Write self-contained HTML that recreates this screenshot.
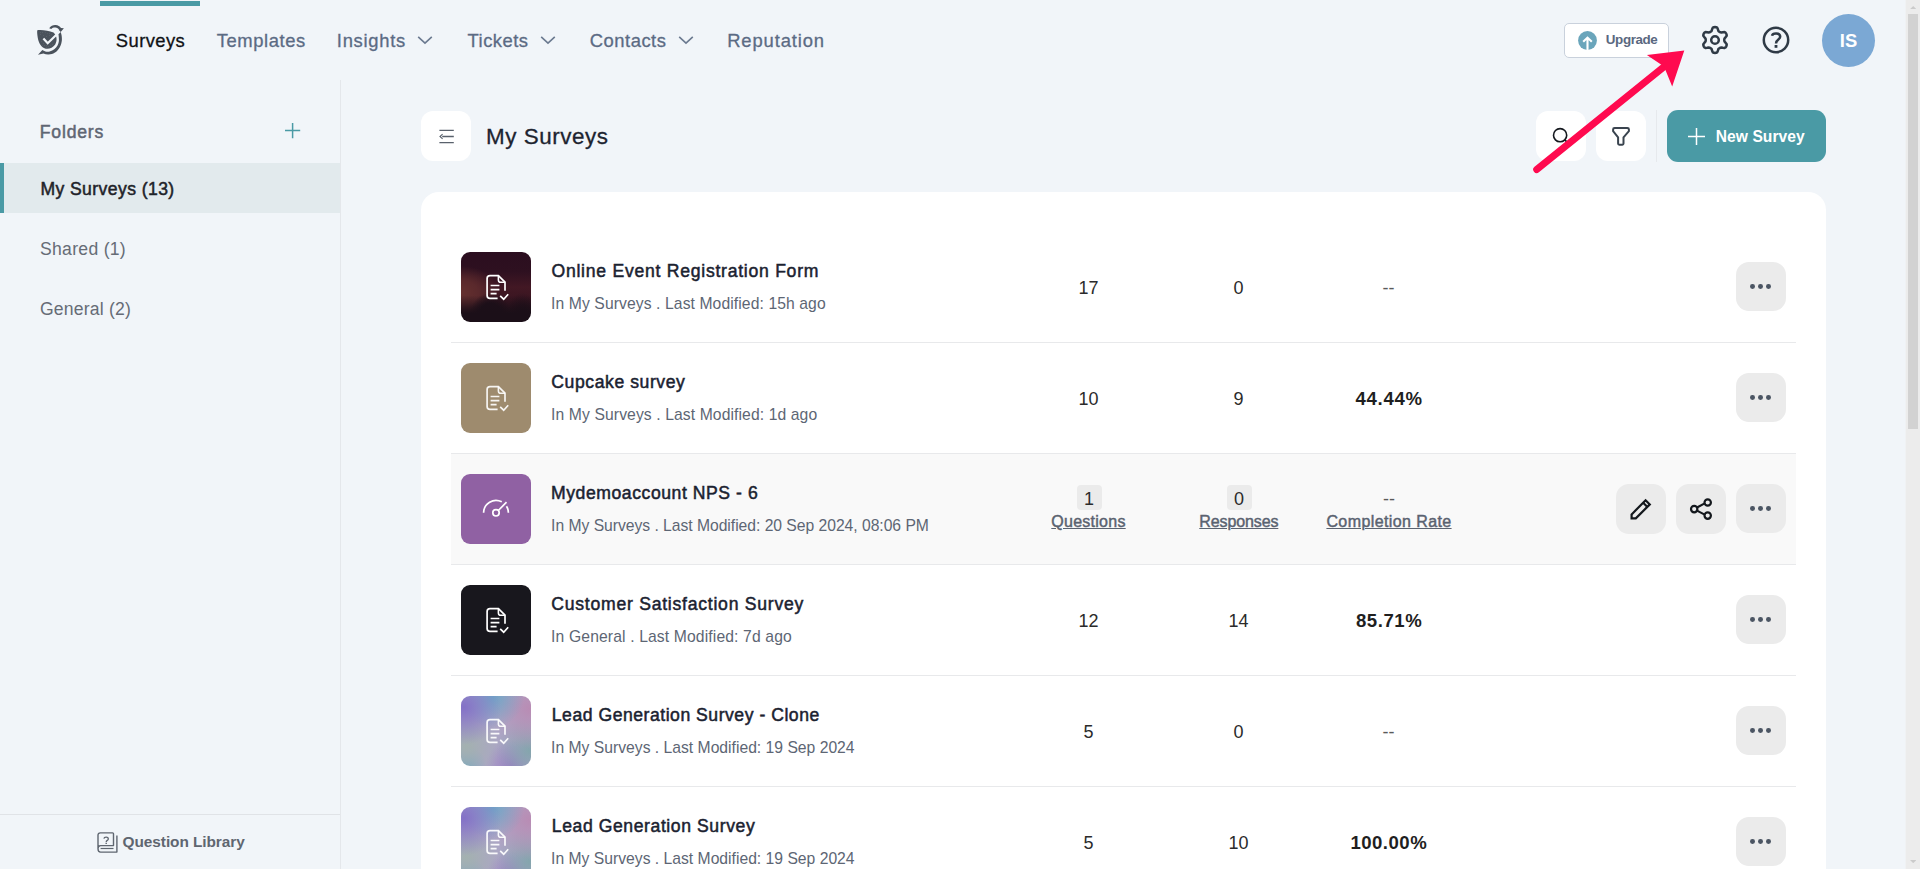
<!DOCTYPE html>
<html lang="en"><head>
<meta charset="utf-8">
<title>My Surveys</title>
<style>
*{box-sizing:border-box;margin:0;padding:0}
html,body{width:1920px;height:869px;overflow:hidden;background:#f1f5f9;font-family:"Liberation Sans",sans-serif;color:#1f2430}
body{position:relative}
.abs{position:absolute}
/* ---------- top nav ---------- */
.tabbar{position:absolute;left:100px;top:1px;width:100px;height:5px;background:#4a9aa5}
.logo{position:absolute;left:30px;top:18px;width:42px;height:44px}
.nav a{position:absolute;top:29.5px;height:22px;line-height:22px;font-size:18.4px;color:#5b6b84;text-decoration:none;white-space:nowrap}
.nav a{-webkit-text-stroke:0.3px currentColor}
.nav a.on{color:#0f1115}
.nav svg{position:absolute;top:35px;width:16px;height:10px}
.upg{position:absolute;left:1564px;top:23px;width:105px;height:35px;border:1px solid #c9d1dc;border-radius:5px;background:#fff}
.upg .c{position:absolute;left:13px;top:7px;width:19px;height:19px}
.upg span{position:absolute;left:41px;top:7px;font-size:13.4px;font-weight:700;color:#5a6880;line-height:18px}
.ico{position:absolute}
.avatar{position:absolute;left:1822px;top:14px;width:53px;height:53px;border-radius:50%;background:#7ba8d4;color:#fff;font-weight:700;font-size:18.4px;text-align:center;line-height:53px}
/* ---------- sidebar ---------- */
.side{position:absolute;left:0;top:80px;width:341px;height:789px;border-right:1px solid #e4e7eb}
.side h3{position:absolute;left:40px;top:41px;font-size:17.6px;line-height:22px;font-weight:400;-webkit-text-stroke:0.5px currentColor;color:#5f6673}
.side .it{position:absolute;left:0;width:340px;height:50px;padding-left:40px;line-height:52px;font-size:17.6px;color:#666c76;white-space:nowrap}
.side .it.on{background:#e2eaed;border-left:4px solid #4a9aa5;padding-left:36px;color:#1f2329;font-weight:400;-webkit-text-stroke:0.5px currentColor}
.side .ql{position:absolute;left:0;top:734px;width:340px;height:55px;border-top:1px solid #e0e3e7}
.side .ql span{position:absolute;left:123px;top:17px;font-size:15.4px;font-weight:700;color:#5f6670;line-height:20px;white-space:nowrap}
/* ---------- toolbar ---------- */
.sq{position:absolute;top:111px;width:50px;height:50px;border-radius:12px;background:#fff}
.title{position:absolute;left:487px;top:122px;font-size:22.4px;-webkit-text-stroke:0.3px currentColor;line-height:30px;color:#1d2430;white-space:nowrap}
.new{position:absolute;left:1667px;top:110px;width:159px;height:52px;border-radius:11px;background:#4a9aa5}
.new span{position:absolute;left:49px;top:16px;font-size:15.6px;font-weight:700;color:#fff;line-height:22px;white-space:nowrap}
.vdiv{position:absolute;left:1656px;top:110px;width:1px;height:52px;background:#e6e9ed}
/* ---------- card ---------- */
.card{position:absolute;left:421px;top:192px;width:1405px;height:700px;background:#fff;border-radius:18px 18px 0 0}
.row{position:absolute;left:30px;width:1345px;height:111px;border-bottom:1px solid #e8e9eb}
.row.hv{background:#f9f9f9}
.th{position:absolute;left:10px;top:20px;width:70px;height:70px;border-radius:9px;overflow:hidden}
.th svg{position:absolute;left:0;top:0}
.t1{position:absolute;left:101px;top:26.5px;font-size:17.6px;line-height:24px;font-weight:400;-webkit-text-stroke:0.5px currentColor;color:#1b2230;white-space:nowrap}
.t2{position:absolute;left:101px;top:61px;font-size:15.7px;line-height:22px;color:#5d6674;white-space:nowrap}
.col{position:absolute;top:0;width:150px;height:110px;text-align:center;font-size:18px;color:#2b2b2b;line-height:112px}
.col b{font-weight:700;color:#1f1f1f;font-size:18.6px}
.col.g{color:#5a5a5a}
.c1{left:562.5px}.c2{left:712.5px}.c3{left:862.5px}
.hv .col{line-height:normal}
.bdg{position:absolute;left:63px;top:31px;width:25px;height:25px;border-radius:4px;background:#ebebeb;line-height:29px;font-size:18px;color:#2b2b2b}
.lbl{position:absolute;left:0;right:0;top:57px;font-size:16px;line-height:22px;font-weight:400;-webkit-text-stroke:0.45px currentColor;color:#5a6270;text-decoration:underline;white-space:nowrap}
.btn{position:absolute;top:30px;width:50px;height:50px;border-radius:13px;background:#ebebeb}
.btn.more{left:1285px;height:49px}
.btn.more i{position:absolute;top:22.4px;width:4.8px;height:4.8px;border-radius:50%;background:#4b5563}
.sb{position:absolute;left:1905px;top:0;width:15px;height:869px;background:#ececec;border-left:1px solid #f0f2f4}
.sb .th2{position:absolute;left:2px;top:14px;width:10px;height:415px;background:#d2d2d2}
</style>
</head>
<body>

<!-- ===== top navigation ===== -->
<div class="tabbar"></div>
<svg class="logo" viewBox="0 0 42 44">
  <path fill="#4a525c" d="M8.2 12.1C13 11.8 19 12.6 23.5 14.6C26.8 17.5 27.6 22.5 25.2 26.4C22.6 30.2 18 31.6 14.4 30.2C10.5 28.5 8.5 24 7.8 20C7.3 17 7 14 7.2 13C7.3 12.3 7.6 12.1 8.2 12.1Z"></path>
  <path fill="#4a525c" d="M8 36.7L13.4 35.6C15 36.3 17 36.7 18.6 36.6C21 36.4 23 35.7 24.6 34.8C27 33.3 28.6 31.4 29.8 29.2C31 27 31.7 24.5 31.9 22C32 19 31.6 16.4 30.7 13.9L33.9 10.2L31 10C29.8 8.4 28 7.3 25.6 7.1C23.2 6.9 20.8 8 19.2 10.3L21.3 11C22.4 10 23.8 9.5 25.4 9.6C27 9.7 28.4 10.6 29.3 12.2L28 15.2C28.6 16.5 28.8 18 28.8 19.3C28.9 20.5 29 22 28.9 23.1C28.7 24.8 28.3 26.2 27.5 27.6C26.7 29 25.6 30.2 24.25 31.2C23 32.2 21.5 33 19.7 33.4C18.3 33.7 16.8 33.7 15.4 33.4C14.3 33.1 13.3 32.6 12.35 32.05Z"></path><g fill="#fff" fill-opacity="0.16"><circle cx="10.4" cy="14.5" r=".45"></circle><circle cx="12.6" cy="14.5" r=".45"></circle><circle cx="15.4" cy="14.6" r=".45"></circle><circle cx="17.5" cy="15.4" r=".45"></circle><circle cx="19.6" cy="15.5" r=".45"></circle><circle cx="21.5" cy="16.4" r=".45"></circle><circle cx="10.5" cy="16.5" r=".45"></circle><circle cx="13.4" cy="17.4" r=".45"></circle><circle cx="16.5" cy="18.5" r=".45"></circle><circle cx="19.5" cy="17.5" r=".45"></circle><circle cx="11.5" cy="23.4" r=".45"></circle><circle cx="13.4" cy="25.5" r=".45"></circle><circle cx="12.5" cy="27.4" r=".45"></circle><circle cx="14.5" cy="27.5" r=".45"></circle><circle cx="16.5" cy="27.5" r=".45"></circle><circle cx="18.5" cy="28.5" r=".45"></circle><circle cx="20.5" cy="27.4" r=".45"></circle><circle cx="22.5" cy="26.5" r=".45"></circle><circle cx="16.4" cy="29.4" r=".45"></circle></g>
  <path fill="none" stroke="#f1f5f9" stroke-width="2.2" d="M13.4 20.4L17.7 25.2L30 13.2"></path>
</svg>
<div class="nav">
  <a class="on" style="left: 116px; letter-spacing: 0.42px; margin-left: -0.2px;">Surveys</a>
  <a style="left: 216px; letter-spacing: 0.6px; margin-left: 0.7px;">Templates</a>
  <a style="left: 337px; letter-spacing: 0.71px; margin-left: -0.2px;">Insights</a>
  <a style="left: 467px; letter-spacing: 0.48px; margin-left: 0.6px;">Tickets</a>
  <a style="left: 590px; letter-spacing: 0.5px; margin-left: -0.2px;">Contacts</a>
  <a style="left: 727px; letter-spacing: 0.88px; margin-left: 0.2px;">Reputation</a>
  <svg style="left:417px" viewBox="0 0 16 10"><path d="M1.2 1.8L8 8.2L14.8 1.8" fill="none" stroke="#6b7a90" stroke-width="1.6"></path></svg>
  <svg style="left:540px" viewBox="0 0 16 10"><path d="M1.2 1.8L8 8.2L14.8 1.8" fill="none" stroke="#6b7a90" stroke-width="1.6"></path></svg>
  <svg style="left:678px" viewBox="0 0 16 10"><path d="M1.2 1.8L8 8.2L14.8 1.8" fill="none" stroke="#6b7a90" stroke-width="1.6"></path></svg>
</div>

<div class="upg"><svg class="c" viewBox="0 0 19 19"><circle cx="9.5" cy="9.5" r="9.4" fill="#6aa5bb"></circle><path d="M9.5 19V7.2M5.2 10.8L9.5 6.6L13.8 10.8" fill="none" stroke="#fff" stroke-width="2.1"></path></svg><span style="letter-spacing: -0.39px; margin-left: -0.2px;">Upgrade</span></div>
<svg class="ico" style="left:1699px;top:24px;width:32px;height:32px" viewBox="-16 -16 32 32"><path d="M9.3 0.0L9.3 0.8L9.6 1.7L10.7 2.9L11.7 4.3L11.6 5.4L11.2 6.5L10.5 7.4L9.5 8.0L7.8 7.8L6.3 7.5L5.4 7.7L4.7 8.1L4.0 8.5L3.3 9.2L2.9 10.7L2.2 12.3L1.1 12.8L0.0 12.9L-1.1 12.8L-2.2 12.3L-2.9 10.7L-3.3 9.2L-4.0 8.5L-4.6 8.1L-5.4 7.7L-6.3 7.5L-7.8 7.8L-9.5 8.0L-10.5 7.4L-11.2 6.5L-11.6 5.4L-11.7 4.3L-10.7 2.9L-9.6 1.7L-9.3 0.8L-9.3 0.0L-9.3 -0.8L-9.6 -1.7L-10.7 -2.9L-11.7 -4.3L-11.6 -5.4L-11.2 -6.5L-10.5 -7.4L-9.5 -8.0L-7.8 -7.8L-6.3 -7.5L-5.4 -7.7L-4.7 -8.1L-4.0 -8.5L-3.3 -9.2L-2.9 -10.7L-2.2 -12.3L-1.1 -12.8L-0.0 -12.9L1.1 -12.8L2.2 -12.3L2.9 -10.7L3.3 -9.2L4.0 -8.5L4.6 -8.1L5.4 -7.7L6.3 -7.5L7.8 -7.8L9.5 -8.0L10.5 -7.4L11.2 -6.4L11.6 -5.4L11.7 -4.3L10.7 -2.9L9.6 -1.7L9.3 -0.8Z" fill="none" stroke="#2f3a46" stroke-width="2.5" stroke-linejoin="round"></path><circle r="3.8" fill="none" stroke="#2f3a46" stroke-width="2.5"></circle></svg>
<svg class="ico" style="left:1759.6px;top:23.6px;width:32px;height:32px" viewBox="-16 -16 32 32"><circle r="12.2" fill="none" stroke="#2f3a46" stroke-width="2.5"></circle><path d="M-4 -4.2C-3.2 -7.4 4.2 -7.6 4.2 -3.2C4.2 -0.4 0 -0.6 0 3.4" fill="none" stroke="#2f3a46" stroke-width="2.5"></path><rect x="-1.4" y="5" width="2.8" height="2.8" fill="#2f3a46"></rect></svg>
<div class="avatar">IS</div>

<!-- ===== sidebar ===== -->
<div class="side">
  <h3 style="letter-spacing: 0.83px; margin-left: -0.3px;">Folders</h3>
  <svg class="ico" style="left:284px;top:42px;width:17px;height:17px" viewBox="0 0 17 17"><path d="M8.6 1V16.2M1 8.6H16.2" stroke="#4a9aa5" stroke-width="1.5" fill="none"></path></svg>
  <div class="it on" style="top: 83px; letter-spacing: 0.41px; margin-left: 0.4px;">My Surveys (13)</div>
  <div class="it" style="top: 143px; letter-spacing: 0.29px; margin-left: 0px;">Shared (1)</div>
  <div class="it" style="top: 203px; letter-spacing: 0.18px; margin-left: 0px;">General (2)</div>
  <div class="ql"><svg class="ico" style="left:96px;top:17px;width:23px;height:23px" viewBox="0 0 23 23"><path d="M2 16.8V3.2C2 1.7 2.8 0.9 4.3 0.9H16.6C17.2 0.9 17.5 1.2 17.5 1.8V13.6H4.6C3 13.6 2 14.8 2 16.8C2 18.8 3 20.1 4.6 20.1H20.9V3.4" fill="none" stroke="#5f6670" stroke-width="1.4" stroke-linejoin="round"></path><path d="M4.6 16.5H17.5" stroke="#5f6670" stroke-width="1.2"></path><path d="M7.9 6.7C8.2 4.6 12.3 4.6 12.3 6.9C12.3 8.4 10.2 8.3 10.2 9.9" fill="none" stroke="#5f6670" stroke-width="1.3"></path><rect x="9.5" y="10.7" width="1.4" height="1.3" fill="#5f6670"></rect></svg><span style="letter-spacing: -0.07px; margin-left: -0.4px;">Question Library</span></div>
</div>

<!-- ===== toolbar ===== -->
<div class="sq" style="left:421px"><svg class="ico" style="left:17px;top:17px;width:17px;height:17px" viewBox="0 0 17 17"><path d="M1.4 2.3H15.8M4.2 8.5H15.8M1.4 14.7H15.8" stroke="#59616c" stroke-width="1.3" fill="none"></path><path d="M4.6 6.2L2 8.5L4.6 10.8" stroke="#59616c" stroke-width="1.1" fill="none"></path></svg></div>
<div class="title" style="letter-spacing: 0.55px; margin-left: -1px;">My Surveys</div>
<div class="sq" style="left:1536px"><svg class="ico" style="left:14px;top:14px;width:24px;height:24px" viewBox="0 0 24 24"><circle cx="10.1" cy="10.2" r="6.6" fill="none" stroke="#15191f" stroke-width="1.6"></circle><path d="M14.8 14.9L20 20.1" stroke="#15191f" stroke-width="1.6"></path></svg></div>
<div class="sq" style="left:1596px"><svg class="ico" style="left:14px;top:14px;width:24px;height:24px" viewBox="0 0 24 24"><path d="M4.6 3H17.4C18.4 3 18.9 3.5 18.9 4.4V6.2L13.5 12.4V18.6C13.5 19.3 13.1 19.7 12.4 19.7H9.2C8.5 19.7 8.1 19.3 8.1 18.6V12.4L3.1 6.2V4.4C3.1 3.5 3.6 3 4.6 3Z" fill="none" stroke="#3a444f" stroke-width="2" stroke-linejoin="round"></path></svg></div>
<div class="vdiv"></div>
<div class="new"><svg class="ico" style="left:20px;top:17px;width:19px;height:19px" viewBox="0 0 19 19"><path d="M9.5 1V18M1 9.5H18" stroke="#fff" stroke-width="1.5" fill="none"></path></svg><span style="letter-spacing: 0.07px; margin-left: -0.3px;">New Survey</span></div>

<!-- ===== survey list ===== -->
<div class="card">
  <div class="row" style="top:40px">
    <div class="th" style="background:linear-gradient(180deg,rgba(27,15,24,0) 62%,#1b0f18 88%),radial-gradient(ellipse 30% 34% at 42% 92%,#1d0f19 0,#1d0f19 55%,rgba(29,15,25,0) 100%),radial-gradient(ellipse 22% 30% at 88% 88%,#1a0e18 0,rgba(26,14,24,0) 100%),radial-gradient(ellipse 55% 38% at 0% 58%,#65302f 0,#5a292c 45%,rgba(90,41,44,0) 100%),linear-gradient(180deg,#2b0e1f 0,#2e1020 28%,#421824 50%,#3a1521 70%,#241018 100%)"><svg width="70" height="70" viewBox="0 0 70 70"><g fill="none" stroke="#fff" stroke-opacity="1"><path d="M44 38.8V30.2L37.4 23.6H29C27.2 23.6 26.1 24.7 26.1 26.5V43.4C26.1 45.2 27.2 46.3 29 46.3H36.6" stroke-width="1.7"></path><path d="M37.4 23.8V28C37.4 29.5 38.2 30.3 39.7 30.3H44" stroke-width="1.6"></path><path d="M29.6 33.5H38.4M29.6 37.6H38.4M29.6 41.6H35.6" stroke-width="1.7"></path><path d="M39.2 43.9L42.7 47.2L47.2 42.2" stroke-width="1.7"></path></g></svg></div>
    <div class="t1" style="letter-spacing: 0.74px; margin-left: -0.5px;">Online Event Registration Form</div>
    <div class="t2" style="letter-spacing: 0.09px; margin-left: -0.9px;">In My Surveys . Last Modified: 15h ago</div>
    <div class="col c1">17</div><div class="col c2">0</div><div class="col c3 g">--</div>
    <div class="btn more"><i style="left:13.9px"></i><i style="left:22.1px"></i><i style="left:30.3px"></i></div>
  </div>
  <div class="row" style="top:151px">
    <div class="th" style="background:#9e8b6e"><svg width="70" height="70" viewBox="0 0 70 70"><g fill="none" stroke="#fff" stroke-opacity="0.9"><path d="M44 38.8V30.2L37.4 23.6H29C27.2 23.6 26.1 24.7 26.1 26.5V43.4C26.1 45.2 27.2 46.3 29 46.3H36.6" stroke-width="1.7"></path><path d="M37.4 23.8V28C37.4 29.5 38.2 30.3 39.7 30.3H44" stroke-width="1.6"></path><path d="M29.6 33.5H38.4M29.6 37.6H38.4M29.6 41.6H35.6" stroke-width="1.7"></path><path d="M39.2 43.9L42.7 47.2L47.2 42.2" stroke-width="1.7"></path></g></svg></div>
    <div class="t1" style="letter-spacing: 0.57px; margin-left: -0.7px;">Cupcake survey</div>
    <div class="t2" style="letter-spacing: 0.1px; margin-left: -0.9px;">In My Surveys . Last Modified: 1d ago</div>
    <div class="col c1">10</div><div class="col c2">9</div><div class="col c3"><b style="letter-spacing: 0.68px; position: relative; left: 0.6px;">44.44%</b></div>
    <div class="btn more"><i style="left:13.9px"></i><i style="left:22.1px"></i><i style="left:30.3px"></i></div>
  </div>
  <div class="row hv" style="top:262px">
    <div class="th" style="background:#9061a3"><svg width="70" height="70" viewBox="0 0 70 70"><path d="M22.6 38.8A12.4 12.4 0 0 1 40.8 27.85M45.5 32.2A12.4 12.4 0 0 1 47.4 38.8" fill="none" stroke="#fff" stroke-width="1.7"></path><circle cx="35" cy="38.8" r="3.2" fill="none" stroke="#fff" stroke-width="1.7"></circle><path d="M37.3 36.5L45.5 28.2" stroke="#fff" stroke-width="1.7"></path></svg></div>
    <div class="t1" style="letter-spacing: 0.56px; margin-left: -1px;">Mydemoaccount NPS - 6</div>
    <div class="t2" style="letter-spacing: -0.03px; margin-left: -0.9px;">In My Surveys . Last Modified: 20 Sep 2024, 08:06 PM</div>
    <div class="col c1"><div class="bdg">1</div><div class="lbl" style="letter-spacing: 0.26px; text-indent: 0px;">Questions</div></div>
    <div class="col c2"><div class="bdg">0</div><div class="lbl" style="letter-spacing: -0.11px; text-indent: 0.6px;">Responses</div></div>
    <div class="col c3"><div class="bdg" style="background:none;color:#5a5a5a">--</div><div class="lbl" style="letter-spacing: 0.4px; text-indent: 1px;">Completion Rate</div></div>
    <div class="btn" style="left:1165px"><svg class="ico" style="left:12px;top:12px;width:26px;height:26px" viewBox="0 0 26 26"><path d="M3.6 18.4L17.6 4.2L21.8 8.4L7.8 22.4H3.6Z" fill="none" stroke="#14181d" stroke-width="2.2" stroke-linejoin="miter"></path><path d="M15.2 6.8L19.4 11" stroke="#14181d" stroke-width="2.2"></path></svg></div>
    <div class="btn" style="left:1225px"><svg class="ico" style="left:12px;top:12px;width:26px;height:26px" viewBox="0 0 26 26"><path d="M9 11.5L16.2 7.6M9 14.6L16.2 18.4" stroke="#14181d" stroke-width="2.2"></path><circle cx="19.7" cy="6.5" r="3.2" fill="none" stroke="#14181d" stroke-width="2.2"></circle><circle cx="6.2" cy="13.1" r="3.2" fill="none" stroke="#14181d" stroke-width="2.2"></circle><circle cx="19.7" cy="19.6" r="3.2" fill="none" stroke="#14181d" stroke-width="2.2"></circle></svg></div>
    <div class="btn more"><i style="left:13.9px"></i><i style="left:22.1px"></i><i style="left:30.3px"></i></div>
  </div>
  <div class="row" style="top:373px">
    <div class="th" style="background:#18171d"><svg width="70" height="70" viewBox="0 0 70 70"><g fill="none" stroke="#fff" stroke-opacity="1"><path d="M44 38.8V30.2L37.4 23.6H29C27.2 23.6 26.1 24.7 26.1 26.5V43.4C26.1 45.2 27.2 46.3 29 46.3H36.6" stroke-width="1.7"></path><path d="M37.4 23.8V28C37.4 29.5 38.2 30.3 39.7 30.3H44" stroke-width="1.6"></path><path d="M29.6 33.5H38.4M29.6 37.6H38.4M29.6 41.6H35.6" stroke-width="1.7"></path><path d="M39.2 43.9L42.7 47.2L47.2 42.2" stroke-width="1.7"></path></g></svg></div>
    <div class="t1" style="letter-spacing: 0.75px; margin-left: -0.7px;">Customer Satisfaction Survey</div>
    <div class="t2" style="letter-spacing: 0.13px; margin-left: -0.9px;">In General . Last Modified: 7d ago</div>
    <div class="col c1">12</div><div class="col c2">14</div><div class="col c3"><b style="letter-spacing: 0.55px; position: relative; left: 0.6px;">85.71%</b></div>
    <div class="btn more"><i style="left:13.9px"></i><i style="left:22.1px"></i><i style="left:30.3px"></i></div>
  </div>
  <div class="row" style="top:484px">
    <div class="th" style="background:radial-gradient(circle at 4% 16%,#8371c7 0,rgba(131,113,199,0) 42%),radial-gradient(circle at 45% 0%,#6ea6c7 0,rgba(110,166,199,0) 40%),radial-gradient(circle at 98% 18%,#b98cb4 0,rgba(185,140,180,0) 45%),radial-gradient(circle at 8% 72%,#a3b1b0 0,rgba(163,177,176,0) 42%),radial-gradient(circle at 98% 78%,#84a5ad 0,rgba(132,165,173,0) 38%),radial-gradient(circle at 72% 100%,#9a7fc3 0,rgba(154,127,195,0) 30%),radial-gradient(circle at 6% 100%,#70a6c2 0,rgba(112,166,194,0) 22%),#aca6c5"><svg width="70" height="70" viewBox="0 0 70 70"><g fill="none" stroke="#fff" stroke-opacity="0.92"><path d="M44 38.8V30.2L37.4 23.6H29C27.2 23.6 26.1 24.7 26.1 26.5V43.4C26.1 45.2 27.2 46.3 29 46.3H36.6" stroke-width="1.7"></path><path d="M37.4 23.8V28C37.4 29.5 38.2 30.3 39.7 30.3H44" stroke-width="1.6"></path><path d="M29.6 33.5H38.4M29.6 37.6H38.4M29.6 41.6H35.6" stroke-width="1.7"></path><path d="M39.2 43.9L42.7 47.2L47.2 42.2" stroke-width="1.7"></path></g></svg></div>
    <div class="t1" style="letter-spacing: 0.52px; margin-left: -0.2px;">Lead Generation Survey - Clone</div>
    <div class="t2" style="letter-spacing: 0px; margin-left: -0.9px;">In My Surveys . Last Modified: 19 Sep 2024</div>
    <div class="col c1">5</div><div class="col c2">0</div><div class="col c3 g">--</div>
    <div class="btn more"><i style="left:13.9px"></i><i style="left:22.1px"></i><i style="left:30.3px"></i></div>
  </div>
  <div class="row" style="top:595px">
    <div class="th" style="background:radial-gradient(circle at 4% 16%,#8371c7 0,rgba(131,113,199,0) 42%),radial-gradient(circle at 45% 0%,#6ea6c7 0,rgba(110,166,199,0) 40%),radial-gradient(circle at 98% 18%,#b98cb4 0,rgba(185,140,180,0) 45%),radial-gradient(circle at 8% 72%,#a3b1b0 0,rgba(163,177,176,0) 42%),radial-gradient(circle at 98% 78%,#84a5ad 0,rgba(132,165,173,0) 38%),radial-gradient(circle at 72% 100%,#9a7fc3 0,rgba(154,127,195,0) 30%),radial-gradient(circle at 6% 100%,#70a6c2 0,rgba(112,166,194,0) 22%),#aca6c5"><svg width="70" height="70" viewBox="0 0 70 70"><g fill="none" stroke="#fff" stroke-opacity="0.92"><path d="M44 38.8V30.2L37.4 23.6H29C27.2 23.6 26.1 24.7 26.1 26.5V43.4C26.1 45.2 27.2 46.3 29 46.3H36.6" stroke-width="1.7"></path><path d="M37.4 23.8V28C37.4 29.5 38.2 30.3 39.7 30.3H44" stroke-width="1.6"></path><path d="M29.6 33.5H38.4M29.6 37.6H38.4M29.6 41.6H35.6" stroke-width="1.7"></path><path d="M39.2 43.9L42.7 47.2L47.2 42.2" stroke-width="1.7"></path></g></svg></div>
    <div class="t1" style="letter-spacing: 0.58px; margin-left: -0.2px;">Lead Generation Survey</div>
    <div class="t2" style="letter-spacing: 0px; margin-left: -0.9px;">In My Surveys . Last Modified: 19 Sep 2024</div>
    <div class="col c1">5</div><div class="col c2">10</div><div class="col c3"><b style="letter-spacing: 0.47px; position: relative; left: 0.3px;">100.00%</b></div>
    <div class="btn more"><i style="left:13.9px"></i><i style="left:22.1px"></i><i style="left:30.3px"></i></div>
  </div>
</div>

<!-- ===== annotation arrow ===== -->
<svg class="ico" style="left:1520px;top:30px;width:180px;height:150px" viewBox="1520 30 180 150"><path d="M1536.7 169.5L1664 66.8" stroke="#ff0a4f" stroke-width="7" stroke-linecap="round" fill="none"></path><path d="M1684.3 50.4L1646.9 55L1664 66.5L1672.2 86.6Z" fill="#ff0a4f"></path></svg>

<!-- ===== scrollbar ===== -->
<div class="sb"><div class="th2"></div><svg class="ico" style="left:3.8px;top:5.8px;width:6.4px;height:3.2px" viewBox="0 0 8 4"><path d="M0 4L4 0L8 4Z" fill="#cbcbcb"/></svg><svg class="ico" style="left:3.8px;top:860px;width:6.4px;height:3.2px" viewBox="0 0 8 4"><path d="M0 0L4 4L8 0Z" fill="#cbcbcb"/></svg></div>









</body></html>
